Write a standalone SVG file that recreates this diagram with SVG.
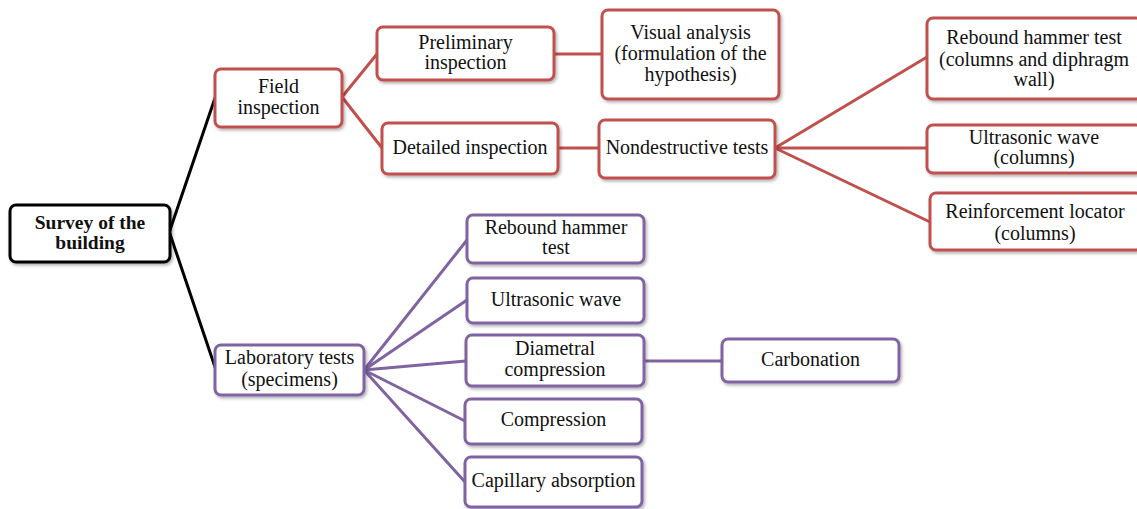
<svg xmlns="http://www.w3.org/2000/svg" width="1137" height="509" viewBox="0 0 1137 509">
<defs>
<filter id="sh" x="-10%" y="-10%" width="130%" height="140%">
<feDropShadow dx="1.5" dy="2" stdDeviation="1.5" flood-color="#000" flood-opacity="0.3"/>
</filter>
</defs>
<style>
.box{fill:#fff;stroke-width:3;filter:url(#sh)}
.red{stroke:#c0504d}
.pur{stroke:#8064a2}
.blk{stroke:#000}
.t{font-family:"Liberation Serif","Times New Roman",serif;font-size:20px;fill:#111;text-anchor:middle}
.b{font-weight:bold;font-size:19.5px}
.c{fill:none;stroke-width:3;stroke-linecap:round}
</style>
<rect width="1137" height="509" fill="#fff"/>
<g id="connectors">
<path class="c blk" d="M170,230 L215,98 M170,234 L215,367"/>
<path class="c red" d="M342,97 L377,54 M342,97 L382,148 M554,54 L602,54 M558,148 L599,148 M775,148 L927,57 M775,148 L927,148 M775,148 L930,222"/>
<path class="c pur" d="M364,370 L467,240 M364,370 L467,300 M364,370 L466,361 M364,370 L465,421 M364,370 L465,482 M644,361 L722,361"/>
</g>
<g id="survey"><rect class="box blk" x="10" y="205" width="160" height="57" rx="6"/><text class="t b" x="90" y="229">Survey of the</text><text class="t b" x="90" y="249">building</text></g>
<g id="field"><rect class="box red" x="215" y="69" width="127" height="58" rx="6"/><text class="t" x="278.5" y="93">Field</text><text class="t" x="278.5" y="114">inspection</text></g>
<g id="preliminary"><rect class="box red" x="377" y="27" width="177" height="53" rx="6"/><text class="t" x="465.5" y="49">Preliminary</text><text class="t" x="465.5" y="69">inspection</text></g>
<g id="visual"><rect class="box red" x="602" y="10" width="177" height="89" rx="6"/><text class="t" x="690.5" y="39">Visual analysis</text><text class="t" x="690.5" y="60">(formulation of the</text><text class="t" x="690.5" y="81">hypothesis)</text></g>
<g id="detailed"><rect class="box red" x="382" y="123" width="176" height="51" rx="6"/><text class="t" x="470" y="154">Detailed inspection</text></g>
<g id="nondestructive"><rect class="box red" x="599" y="120" width="176" height="58" rx="6"/><text class="t" x="687" y="154">Nondestructive tests</text></g>
<g id="rebound-field"><rect class="box red" x="927" y="18" width="215" height="81" rx="6"/><text class="t" x="1034" y="44">Rebound hammer test</text><text class="t" x="1034" y="66">(columns and diphragm</text><text class="t" x="1034" y="86">wall)</text></g>
<g id="ultrasonic-field"><rect class="box red" x="927" y="125" width="215" height="48" rx="6"/><text class="t" x="1034" y="144">Ultrasonic wave</text><text class="t" x="1034" y="164">(columns)</text></g>
<g id="reinforcement"><rect class="box red" x="930" y="193" width="212" height="57" rx="6"/><text class="t" x="1035" y="218">Reinforcement locator</text><text class="t" x="1035" y="240">(columns)</text></g>
<g id="laboratory"><rect class="box pur" x="215" y="345" width="149" height="50" rx="6"/><text class="t" x="289.5" y="364">Laboratory tests</text><text class="t" x="289.5" y="386">(specimens)</text></g>
<g id="rebound-lab"><rect class="box pur" x="467" y="215" width="177" height="48" rx="6"/><text class="t" x="556" y="234">Rebound hammer</text><text class="t" x="556" y="254">test</text></g>
<g id="ultrasonic-lab"><rect class="box pur" x="467" y="278" width="177" height="45" rx="6"/><text class="t" x="556" y="306">Ultrasonic wave</text></g>
<g id="diametral"><rect class="box pur" x="466" y="335" width="178" height="51" rx="6"/><text class="t" x="555" y="355">Diametral</text><text class="t" x="555" y="376">compression</text></g>
<g id="compression"><rect class="box pur" x="465" y="399" width="177" height="45" rx="6"/><text class="t" x="553.5" y="426">Compression</text></g>
<g id="capillary"><rect class="box pur" x="465" y="457" width="177" height="50" rx="6"/><text class="t" x="553.5" y="487">Capillary absorption</text></g>
<g id="carbonation"><rect class="box pur" x="722" y="339" width="177" height="43" rx="6"/><text class="t" x="810.5" y="366">Carbonation</text></g>
</svg>
